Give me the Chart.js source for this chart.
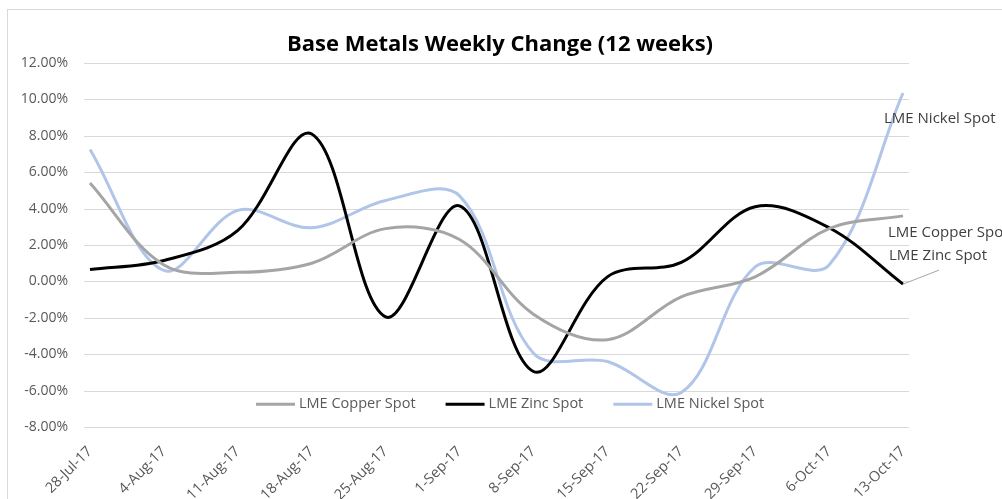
<!DOCTYPE html>
<html>
<head>
<meta charset="utf-8">
<script src="https://cdn.jsdelivr.net/npm/chart.js@4.4.1/dist/chart.umd.min.js"></script>
<style>
  html, body { margin: 0; padding: 0; background: #ffffff; }
  #wrap { position: relative; width: 1002px; height: 499px; }
</style>
</head>
<body>
<div id="wrap"><canvas id="c" width="1002" height="499"></canvas></div>
<script>
// ---- data ----
const categories = ['28-Jul-17','4-Aug-17','11-Aug-17','18-Aug-17','25-Aug-17','1-Sep-17','8-Sep-17','15-Sep-17','22-Sep-17','29-Sep-17','6-Oct-17','13-Oct-17'];
const seriesNames = ['LME Copper Spot', 'LME Zinc Spot', 'LME Nickel Spot'];
const copperSpot = [5.4, 0.9, 0.5, 1.0, 2.9, 2.3, -1.8, -3.2, -0.85, 0.25, 2.9, 3.6];
const zincSpot   = [0.65, 1.15, 2.8, 8.1, -1.95, 4.15, -4.95, 0.25, 1.05, 4.1, 2.95, -0.15];
const nickelSpot = [7.25, 0.6, 3.9, 2.95, 4.45, 4.7, -3.95, -4.4, -6.1, 0.8, 0.9, 10.35];
const yTickValues = [-8, -6, -4, -2, 0, 2, 4, 6, 8, 10, 12];
const chartTitle = 'Base Metals Weekly Change (12 weeks)';

const FONT = '"Open Sans", "Liberation Sans", sans-serif';
const colors = ['#a5a5a5', '#000000', '#b0c5e8'];

// frame, title + extended gridlines
const framePlugin = {
  id: 'frame',
  beforeDraw(chart) {
    const ctx = chart.ctx;
    ctx.save();
    ctx.fillStyle = '#ffffff';
    ctx.fillRect(0, 0, chart.width, chart.height);
    ctx.strokeStyle = '#d9d9d9';
    ctx.lineWidth = 1;
    ctx.strokeRect(7.5, 9.5, chart.width + 20, chart.height + 20);
    ctx.fillStyle = '#000000';
    ctx.font = 'bold 22px ' + FONT;
    ctx.textAlign = 'center';
    ctx.textBaseline = 'middle';
    ctx.fillText(chartTitle, 500, 45);
    ctx.restore();
  },
  beforeDatasetsDraw(chart) {
    const ctx = chart.ctx, y = chart.scales.y, a = chart.chartArea;
    ctx.save();
    ctx.strokeStyle = '#d9d9d9';
    ctx.lineWidth = 1;
    yTickValues.forEach(v => {
      const py = Math.round(y.getPixelForValue(v)) + 0.5;
      ctx.beginPath();
      ctx.moveTo(a.left - 6, py);
      ctx.lineTo(a.right + 6, py);
      ctx.stroke();
    });
    ctx.restore();
  }
};

// in-plot legend + end labels
const labelsPlugin = {
  id: 'labels',
  afterDatasetsDraw(chart) {
    const ctx = chart.ctx, y = chart.scales.y;
    ctx.save();
    ctx.font = '14.5px ' + FONT;
    ctx.textBaseline = 'middle';
    // legend
    const ly = y.getPixelForValue(-6.75);
    let x = 256;
    chart.data.datasets.forEach((ds) => {
      ctx.strokeStyle = ds.borderColor;
      ctx.lineWidth = 3;
      ctx.beginPath();
      ctx.moveTo(x, ly);
      ctx.lineTo(x + 39, ly);
      ctx.stroke();
      ctx.fillStyle = '#595959';
      ctx.textAlign = 'left';
      ctx.fillText(ds.label, x + 43, ly);
      x += 43 + ctx.measureText(ds.label).width + 30;
    });
    // end-of-line labels
    ctx.font = '15px ' + FONT;
    const offs = [[-15, 17], [-14, -28], [-19, 26]];
    chart.data.datasets.forEach((ds, i) => {
      const meta = chart.getDatasetMeta(i);
      const p = meta.data[meta.data.length - 1];
      ctx.fillStyle = '#404040';
      ctx.fillText(ds.label, p.x + offs[i][0], p.y + offs[i][1]);
      if (i === 1) {
        ctx.strokeStyle = '#a6a6a6';
        ctx.lineWidth = 1;
        ctx.beginPath();
        ctx.moveTo(p.x, p.y);
        ctx.lineTo(p.x + 36, p.y - 14);
        ctx.stroke();
      }
    });
    ctx.restore();
  }
};

const seriesData = [copperSpot, zincSpot, nickelSpot];
new Chart(document.getElementById('c'), {
  type: 'line',
  data: {
    labels: categories,
    datasets: seriesNames.map((n, i) => ({
      label: n,
      data: seriesData[i],
      borderColor: colors[i],
      backgroundColor: colors[i],
      borderWidth: 3,
      pointRadius: 0,
      tension: 0.35,
      fill: false
    }))
  },
  options: {
    responsive: false,
    animation: false,
    devicePixelRatio: 1,
    layout: { padding: { left: 0, right: 99, top: 63, bottom: 0 } },
    plugins: {
      legend: { display: false },
      tooltip: { enabled: false },
      title: { display: false }
    },
    scales: {
      x: {
        offset: false,
        grid: { display: false, drawTicks: false },
        border: { display: false },
        ticks: {
          color: '#595959',
          font: { family: FONT, size: 14.5 },
          minRotation: 45, maxRotation: 45,
          autoSkip: false,
          padding: 16
        },
        afterFit(s) { s.height = 72; }
      },
      y: {
        min: -8, max: 12,
        grid: { display: false, drawTicks: false },
        border: { display: false },
        ticks: {
          stepSize: 2,
          color: '#595959',
          font: { family: FONT, size: 14 },
          padding: 22,
          callback: v => v.toFixed(2) + '%'
        },
        afterFit(s) { s.width = 90; }
      }
    }
  },
  plugins: [framePlugin, labelsPlugin]
});
</script>
</body>
</html>
